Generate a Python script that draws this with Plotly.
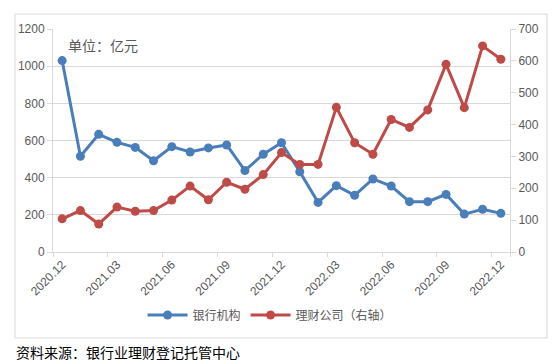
import plotly.graph_objects as go

months = ["2020.12", "2021.01", "2021.02", "2021.03", "2021.04", "2021.05", "2021.06",
          "2021.07", "2021.08", "2021.09", "2021.10", "2021.11", "2021.12",
          "2022.01", "2022.02", "2022.03", "2022.04", "2022.05", "2022.06",
          "2022.07", "2022.08", "2022.09", "2022.10", "2022.11", "2022.12"]
bank = [1030, 515, 633, 590, 563, 491, 567, 538, 560, 576, 438, 526, 588,
        432, 267, 357, 305, 393, 355, 271, 271, 310, 204, 230, 208]
wmc = [104, 130, 88, 141, 128, 130, 163, 207, 164, 219, 197, 243, 312,
       275, 275, 454, 343, 307, 416, 391, 446, 589, 453, 647, 605]
tick_labels = months[::3]

blue = "#4A7EBB"
red = "#BE4B48"
gray = "#595959"
axc = "#D9D9D9"

fig = go.Figure()
fig.add_trace(go.Scatter(x=months, y=bank, name="银行机构", mode="lines+markers",
                         line=dict(color=blue, width=3), marker=dict(size=9, color=blue)))
fig.add_trace(go.Scatter(x=months, y=wmc, name="理财公司（右轴）", mode="lines+markers",
                         line=dict(color=red, width=3), marker=dict(size=9, color=red),
                         yaxis="y2"))

L, R, T, B = 53, 44, 29, 112
W, H = 554, 364
pw, ph = W - L - R, H - T - B

def px(x):
    return (x - L) / pw

def py(y):
    return (H - B - y) / ph

fig.update_layout(
    width=W, height=H,
    margin=dict(l=L, r=R, t=T, b=B),
    paper_bgcolor="white", plot_bgcolor="white",
    font=dict(family="Liberation Sans, Noto Sans CJK SC", size=12, color=gray),
    showlegend=True,
    legend=dict(orientation="h", x=0.475, xanchor="center", y=py(315), yanchor="middle",
                font=dict(size=12, color=gray, family="Noto Sans CJK SC"),
                itemwidth=40, bgcolor="rgba(0,0,0,0)"),
    xaxis=dict(type="category", range=[-0.5, len(months) - 0.5],
               tickmode="array", tickvals=tick_labels, ticktext=tick_labels,
               tickson="boundaries", ticks="outside", ticklen=4, tickcolor=axc,
               tickangle=-45, showgrid=False, showline=True, linecolor=axc,
               linewidth=1, zeroline=False, tickfont=dict(size=12, color=gray)),
    yaxis=dict(range=[0, 1200], dtick=200, showgrid=True, gridcolor=axc, gridwidth=1,
               showline=True, linecolor=axc, ticks="outside", ticklen=5, tickcolor=axc,
               zeroline=False, tickfont=dict(size=12, color=gray)),
    yaxis2=dict(range=[0, 700], dtick=100, overlaying="y", side="right", showgrid=False,
                showline=True, linecolor=axc, ticks="outside", ticklen=5, tickcolor=axc,
                zeroline=False, tickfont=dict(size=12, color=gray)),
    shapes=[dict(type="rect", xref="paper", yref="paper",
                 x0=px(15), x1=px(547), y0=py(338), y1=py(14),
                 line=dict(color=axc, width=1), layer="below")],
    annotations=[
        dict(text="单位：亿元", xref="paper", yref="paper", x=px(66), y=py(45),
             xanchor="left", yanchor="middle", showarrow=False,
             font=dict(size=14, color=gray, family="Noto Sans CJK SC")),
        dict(text="资料来源：银行业理财登记托管中心", xref="paper", yref="paper",
             x=px(14), y=py(352), xanchor="left", yanchor="middle", showarrow=False,
             font=dict(size=14, color="#000000", family="Noto Sans CJK SC")),
    ],
)

fig.write_html("out.html")
